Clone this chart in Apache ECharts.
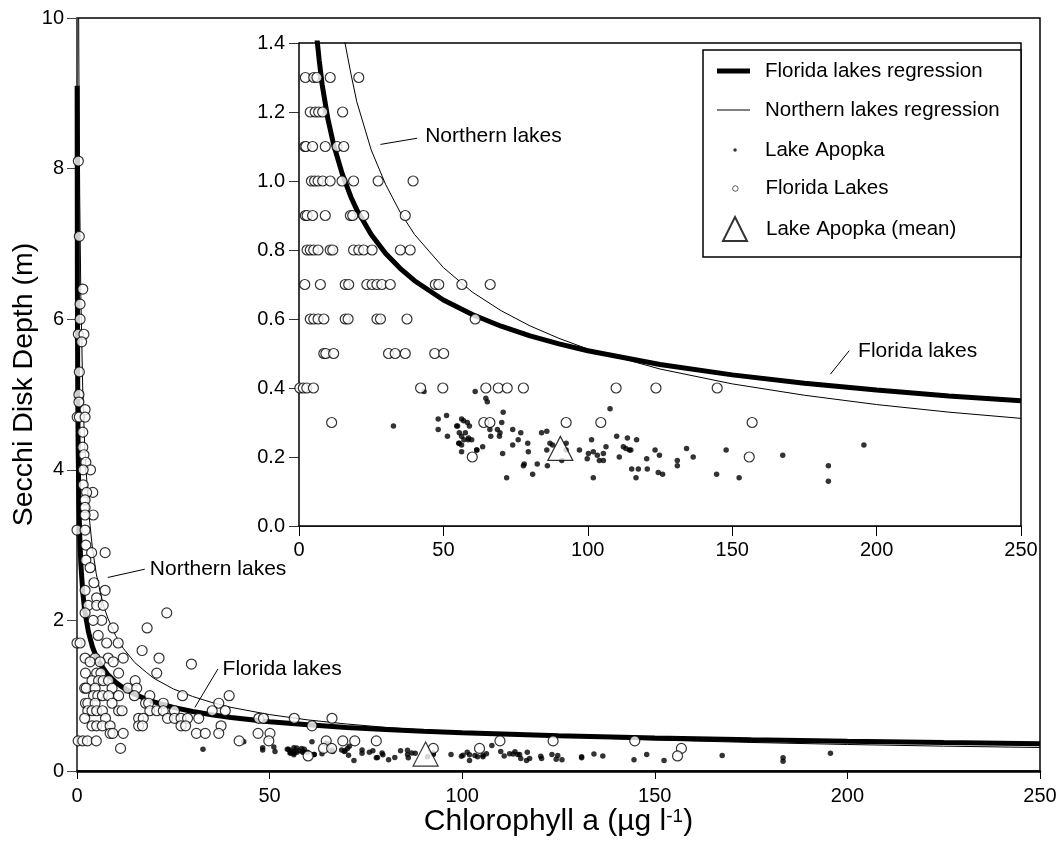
<!DOCTYPE html>
<html><head><meta charset="utf-8">
<script src="https://cdn.jsdelivr.net/npm/echarts@6/dist/echarts.min.js"></script>
<style>html,body{margin:0;padding:0;background:#fff}#c{width:1060px;height:854px}</style>
</head><body><div id="c"></div>
<script>
const FONT = "'Liberation Sans', Arial, Helvetica, sans-serif";

// ---- tick values ----
const xTicks = [0, 50, 100, 150, 200, 250];
const mainYTicks = [0, 2, 4, 6, 8, 10];
const insetYTicks = [0, 0.2, 0.4, 0.6, 0.8, 1.0, 1.2, 1.4];

// ---- regression curves ----
const floridaCurveX = [0.038,0.1,0.2,0.3,0.5,0.7,1,1.5,2,3,4,5,6,7,8,10,12,15,18,20,25,30,35,40,50,60,70,80,90,100,125,150,175,200,225,250];
const floridaCurveY = [9.1,6.40,4.96,4.28,3.54,3.13,2.75,2.37,2.13,1.84,1.65,1.52,1.43,1.35,1.28,1.18,1.105,1.02,0.953,0.917,0.845,0.790,0.747,0.711,0.655,0.613,0.579,0.551,0.528,0.508,0.468,0.438,0.414,0.394,0.377,0.363];
const northernCurveX = [0.43,0.5,0.7,1,1.5,2,3,4,5,6,7,8,10,12,15,18,20,25,30,35,40,50,60,70,80,90,100,125,150,175,200,225,250];
const northernCurveY = [10.0,9.19,7.65,6.30,5.05,4.32,3.46,2.96,2.62,2.38,2.18,2.03,1.80,1.63,1.44,1.31,1.23,1.09,0.99,0.91,0.845,0.749,0.678,0.624,0.580,0.544,0.513,0.455,0.412,0.379,0.352,0.330,0.312];

// ---- Florida lakes (chlorophyll a, Secchi depth) ----
const floridaLakes = [
 [2.2,1.3],[5.1,1.3],[6.2,1.3],[10.8,1.3],[20.7,1.3],
 [3.9,1.2],[5.6,1.2],[6.8,1.2],[8.2,1.2],[15.1,1.2],
 [2.0,1.1],[2.4,1.1],[4.7,1.1],[9.1,1.1],[13.2,1.1],[15.5,1.1],
 [4.3,1.0],[5.4,1.0],[6.6,1.0],[8.2,1.0],[10.8,1.0],[14.9,1.0],[18.9,1.0],[27.4,1.0],[39.5,1.0],
 [2.2,0.9],[2.8,0.9],[4.7,0.9],[9.1,0.9],[17.8,0.9],[18.6,0.9],[22.4,0.9],[36.8,0.9],
 [2.8,0.8],[3.9,0.8],[5.1,0.8],[6.6,0.8],[10.8,0.8],[11.7,0.8],[18.9,0.8],[20.7,0.8],[22.4,0.8],[25.3,0.8],[35.1,0.8],[38.5,0.8],
 [2.0,0.7],[7.4,0.7],[16.0,0.7],[17.2,0.7],[23.5,0.7],[25.3,0.7],[27.0,0.7],[28.7,0.7],[31.6,0.7],[47.2,0.7],[48.4,0.7],[56.4,0.7],[66.2,0.7],
 [3.9,0.6],[5.1,0.6],[6.6,0.6],[8.6,0.6],[16.0,0.6],[17.0,0.6],[27.0,0.6],[28.2,0.6],[37.4,0.6],[61.0,0.6],
 [8.6,0.5],[9.3,0.5],[12.0,0.5],[31.0,0.5],[33.3,0.5],[36.8,0.5],[47.0,0.5],[50.1,0.5],
 [0.3,0.4],[1.5,0.4],[2.7,0.4],[5.0,0.4],[42.1,0.4],[49.8,0.4],[64.7,0.4],[69.0,0.4],[72.1,0.4],[77.7,0.4],[109.8,0.4],[123.6,0.4],[144.8,0.4],
 [11.3,0.3],[64.0,0.3],[66.1,0.3],[92.5,0.3],[104.5,0.3],[156.9,0.3],
 [60.0,0.2],[155.9,0.2],
 [0.35,8.1],[0.6,7.1],[1.5,6.4],[0.8,6.2],[0.8,6.0],[0.35,5.8],[1.8,5.8],[1.2,5.7],[0.6,5.3],[0.5,5.0],[0.5,4.9],[2.1,4.8],
 [0.05,4.7],[0.6,4.7],[2.1,4.7],[1.5,4.5],[1.5,4.3],[1.8,4.2],[2.3,4.1],[3.5,4.0],[1.6,4.0],[1.6,3.8],[4.1,3.7],[2.5,3.7],
 [2.1,3.6],[2.1,3.5],[4.2,3.4],[2.1,3.4],[0.0,3.2],[2.1,3.2],[2.3,3.0],[3.8,2.9],[7.3,2.9],[2.3,2.8],[3.4,2.7],[4.4,2.5],
 [7.3,2.4],[2.1,2.4],[5.1,2.3],[2.9,2.2],[5.1,2.2],[6.8,2.2],[2.1,2.1],[6.4,2.0],[4.2,2.0],[23.3,2.1],[18.2,1.9],[9.4,1.9],
 [0.0,1.7],[0.8,1.7],[5.5,1.8],[7.7,1.7],[10.7,1.7],[2.1,1.5],[4.7,1.5],[8.1,1.5],[12.0,1.5],[16.9,1.6],[21.3,1.5],[29.7,1.42],
 [3.4,1.45],[6.0,1.45],[9.4,1.45]
];

// ---- Lake Apopka (chlorophyll a, Secchi depth) ----
const lakeApopka = [
 [32.7,0.29],[43.3,0.39],[48.2,0.31],[51.1,0.32],[48.2,0.28],[51.4,0.26],[54.6,0.29],[54.9,0.29],[56.3,0.31],[57.0,0.305],[58.3,0.30],[59.0,0.29],
 [55.5,0.27],[56.3,0.26],[57.1,0.25],[57.6,0.27],[58.6,0.25],[58.7,0.255],[59.8,0.25],[55.5,0.24],[55.3,0.24],[56.3,0.235],[56.3,0.215],
 [61.0,0.39],[64.7,0.37],[65.2,0.36],[61.5,0.22],[61.6,0.22],[63.6,0.23],[66.1,0.28],[66.4,0.26],[68.7,0.28],[69.4,0.26],[69.6,0.27],
 [70.7,0.33],[70.2,0.30],[70.5,0.21],[71.9,0.14],[74.0,0.28],[75.9,0.25],[74.0,0.235],[76.8,0.27],[78.0,0.18],[77.7,0.175],
 [79.2,0.24],[79.4,0.215],[80.9,0.15],[82.5,0.18],[84.0,0.27],[85.8,0.275],[86.0,0.175],[85.8,0.22],[86.9,0.24],[87.8,0.235],
 [91.0,0.19],[92.5,0.24],[92.5,0.22],[97.1,0.22],[99.8,0.195],[100.2,0.21],[101.3,0.25],[101.9,0.14],[101.9,0.215],[103.3,0.205],
 [104.0,0.19],[105.4,0.19],[105.4,0.21],[106.3,0.23],[107.7,0.34],[110.0,0.26],[110.9,0.20],[112.3,0.23],[113.2,0.225],[114.4,0.22],
 [114.9,0.22],[113.7,0.255],[116.9,0.25],[115.2,0.165],[117.5,0.165],[116.7,0.14],[120.4,0.195],[120.6,0.165],[123.3,0.22],
 [124.4,0.155],[124.8,0.205],[125.9,0.15],[131.0,0.19],[131.0,0.175],[134.2,0.225],[136.5,0.20],[144.6,0.15],[147.9,0.22],
 [152.4,0.14],[167.5,0.205],[183.3,0.175],[183.3,0.13],[195.6,0.235]
];
const apopkaMean = [[90.5,0.225]];

// ---- annotations (data coordinates) ----
const annotations = [
 {grid:1, text:'Northern lakes', at:[43.7,1.131], from:[28.2,1.106], to:[40.9,1.124]},
 {grid:1, text:'Florida lakes', at:[193.6,0.508], from:[184,0.44], to:[190.5,0.508]},
 {grid:0, text:'Northern lakes', at:[18.9,2.68], from:[8.0,2.57], to:[17.6,2.68]},
 {grid:0, text:'Florida lakes', at:[37.8,1.356], from:[30.6,0.844], to:[36.6,1.356]}
];

const pairs = (xs, ys) => xs.map((x, i) => [x, ys[i]]);
const tickStep = a => a[1] - a[0];

function seriesFor(g, yMax) {
  const inRange = d => d.filter(p => p[1] <= yMax);
  return [
    {name:'Florida lakes regression', type:'line', xAxisIndex:g, yAxisIndex:g, data:pairs(floridaCurveX, floridaCurveY),
     symbol:'none', showSymbol:false, clip:true, silent:true, lineStyle:{color:'#000', width:5}, itemStyle:{color:'#000'}, z:2},
    {name:'Northern lakes regression', type:'line', xAxisIndex:g, yAxisIndex:g, data:pairs(northernCurveX, northernCurveY),
     symbol:'none', showSymbol:false, clip:true, silent:true, lineStyle:{color:'#000', width:1}, itemStyle:{color:'#000'}, z:2},
    {name:'Lake Apopka', type:'scatter', xAxisIndex:g, yAxisIndex:g, data:inRange(lakeApopka), symbol:'circle', symbolSize:5.5,
     itemStyle:{color:'#000'}, silent:true, z:3},
    {name:'Florida Lakes', type:'scatter', xAxisIndex:g, yAxisIndex:g, data:inRange(floridaLakes), symbol:'circle', symbolSize:10,
     itemStyle:{color:'#fff', borderColor:'#000', borderWidth:1.2}, silent:true, z:4},
    {name:'Lake Apopka (mean)', type:'scatter', xAxisIndex:g, yAxisIndex:g, data:apopkaMean, symbol:'triangle', symbolSize:[25,24],
     itemStyle:{color:'#fff', borderColor:'#000', borderWidth:1.2}, silent:true, z:5}
  ];
}

function legendFor(name, icon, w, h, left, centerY, pad, bw) {
  return {show:true, orient:'vertical', left:left, top:centerY - 12, padding:0, itemGap:0, itemWidth:w, itemHeight:h,
    selectedMode:false, z:10, data:[{name:name, icon:icon}],
    itemStyle: bw ? {borderWidth:bw} : {},
    textStyle:{fontSize:20.5, fontFamily:FONT, color:'#000', lineHeight:24, padding:[0,0,0,pad]}};
}

const chart = echarts.init(document.getElementById('c'));
const option = {
  animation:false,
  backgroundColor:'#fff',
  grid:[
    {left:77, top:18, width:963, height:753, outerBoundsMode:'none', containLabel:false, show:true, borderColor:'#000', borderWidth:1.5, backgroundColor:'rgba(0,0,0,0)', z:0},
    {left:299, top:43, width:722, height:483, outerBoundsMode:'none', containLabel:false, show:true, borderColor:'#000', borderWidth:1.5, backgroundColor:'#fff', z:1}
  ],
  xAxis:[
    {gridIndex:0, type:'value', min:xTicks[0], max:xTicks[xTicks.length-1], interval:tickStep(xTicks),
     axisLine:{onZero:false, lineStyle:{color:'#000', width:2.5}}, axisTick:{length:8, lineStyle:{color:'#000', width:1}},
     axisLabel:{margin:15, fontSize:20, color:'#000', fontFamily:FONT}, splitLine:{show:false},
     name:'Chlorophyll a (µg l{sup|-1})', nameLocation:'middle', nameGap:36, nameMoveOverlap:false,
     nameTextStyle:{fontSize:30, fontFamily:FONT, color:'#000', rich:{sup:{fontSize:19, fontFamily:FONT, color:'#000', verticalAlign:'top', lineHeight:15}}}},
    {gridIndex:1, type:'value', min:xTicks[0], max:xTicks[xTicks.length-1], interval:tickStep(xTicks),
     axisLine:{onZero:false, lineStyle:{color:'#000', width:1.5}}, axisTick:{length:10, lineStyle:{color:'#000', width:1}},
     axisLabel:{margin:14, fontSize:20, color:'#000', fontFamily:FONT}, splitLine:{show:false}}
  ],
  yAxis:[
    {gridIndex:0, type:'value', min:mainYTicks[0], max:mainYTicks[mainYTicks.length-1], interval:tickStep(mainYTicks),
     axisLine:{show:true, onZero:false, lineStyle:{color:'#555', width:1.5}}, axisTick:{show:true, length:10, lineStyle:{color:'#444', width:1}},
     axisLabel:{margin:13, fontSize:20, color:'#000', fontFamily:FONT}, splitLine:{show:false},
     name:'Secchi Disk Depth (m)', nameLocation:'middle', nameGap:38, nameMoveOverlap:false,
     nameTextStyle:{fontSize:28.5, fontFamily:FONT, color:'#000', padding:[0,0,0,20]}},
    {gridIndex:1, type:'value', min:insetYTicks[0], max:insetYTicks[insetYTicks.length-1], interval:0.2,
     axisLine:{show:true, onZero:false, lineStyle:{color:'#666', width:1.2}}, axisTick:{show:true, length:10, lineStyle:{color:'#333', width:1}},
     axisLabel:{margin:14, fontSize:20, color:'#000', fontFamily:FONT, formatter:v => v.toFixed(1)}, splitLine:{show:false}}
  ],
  legend:[
    legendFor('Florida lakes regression', 'rect', 33, 5, 717, 71, 10),
    legendFor('Northern lakes regression', 'rect', 33, 1.2, 717, 110, 10),
    legendFor('Lake Apopka', 'circle', 3.5, 3.5, 733.3, 150, 23.2),
    legendFor('Florida Lakes', 'circle', 5.5, 5.5, 732.2, 188.5, 22.3, 0.8),
    legendFor('Lake Apopka (mean)', 'triangle', 24, 24, 722, 228, 14)
  ],
  series:[].concat(seriesFor(0, 10), seriesFor(1, 1.4))
};
chart.setOption(option);

// annotations & legend frame
const gfx = [{type:'rect', id:'legendBox', z:5, shape:{x:703, y:50, width:318, height:207},
  style:{fill:'#fff', stroke:'#000', lineWidth:1.5}}];
annotations.forEach((a, i) => {
  const p = chart.convertToPixel({gridIndex:a.grid}, a.at);
  const f = chart.convertToPixel({gridIndex:a.grid}, a.from);
  const t = chart.convertToPixel({gridIndex:a.grid}, a.to);
  gfx.push({type:'line', id:'al'+i, z:6, silent:true, shape:{x1:f[0], y1:f[1], x2:t[0], y2:t[1]}, style:{stroke:'#000', lineWidth:1}});
  gfx.push({type:'text', id:'at'+i, z:6, silent:true, x:p[0], y:p[1],
    style:{text:a.text, fill:'#000', fontSize:21, fontFamily:FONT, align:'left', verticalAlign:'middle'}});
});
chart.setOption({graphic:gfx});
</script></body></html>
